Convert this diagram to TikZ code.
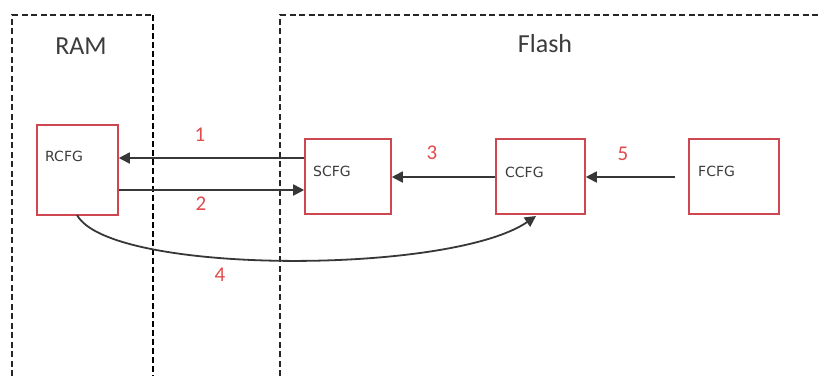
\documentclass[tikz,border=0pt]{standalone}
\usepackage{fontspec}
\setmainfont{Carlito}
\newfontfamily\boxfont{DejaVu Sans}
\usetikzlibrary{arrows.meta}
\definecolor{boxred}{RGB}{205,70,80}
\definecolor{numred}{RGB}{225,75,75}
\definecolor{txtgray}{RGB}{60,60,60}
\definecolor{arrgray}{RGB}{55,55,55}
\tikzset{
  cfgbox/.style={draw=boxred, line width=1.6pt, fill=white, inner sep=0pt},
  cfglabel/.style={font=\boxfont\fontsize{14}{16}\selectfont, text=txtgray, anchor=west, inner sep=0pt},
  numlabel/.style={font=\fontsize{21}{24}\selectfont, text=numred, inner sep=0pt},
  biglabel/.style={font=\fontsize{26}{30}\selectfont, text=txtgray, inner sep=0pt},
  thindash/.style={draw=black!85, line width=1.1pt, dash pattern=on 6pt off 3.5pt},
  thickdash/.style={draw=black, line width=2pt, dash pattern=on 6pt off 3pt},
  conn/.style={draw=arrgray, line width=1.8pt, -{Triangle[length=11pt,width=11pt]}}
}
\begin{document}
\begin{tikzpicture}[x=1pt,y=-1pt]
\useasboundingbox[fill=white] (0,0) rectangle (822,376);
% region borders
\coordinate (ramTL) at (12,15);
\coordinate (ramTR) at (153,15);
\coordinate (ramBL) at (12,376);
\coordinate (ramBR) at (153,376);
\coordinate (flTL) at (280,15);
\coordinate (flTR) at (822,15);
\coordinate (flBL) at (280,376);
\draw[thindash] (ramBL) -- (ramTL) -- (ramTR);
\draw[thickdash] (ramTR) -- (ramBR);
\draw[thindash] (flBL) -- (flTL) -- (flTR);
\node[biglabel] (ram) at (81,46) {RAM};
\node[biglabel] (flash) at (545,44) {Flash};
% boxes
\node[cfgbox, minimum width=81pt, minimum height=90pt] (rcfg) at (77.5,170) {};
\node[cfgbox, minimum width=86pt, minimum height=75pt] (scfg) at (348,176.5) {};
\node[cfgbox, minimum width=89pt, minimum height=75pt] (ccfg) at (540.5,176.5) {};
\node[cfgbox, minimum width=90pt, minimum height=75pt] (fcfg) at (734,176.5) {};
\node[cfglabel] (rcfgt) at (45,156) {RCFG};
\node[cfglabel] (scfgt) at (313,171) {SCFG};
\node[cfglabel] (ccfgt) at (505,172) {CCFG};
\node[cfglabel] (fcfgt) at (698,171) {FCFG};
% connectors
\draw[conn] (scfg.west |- 0,158) -- (rcfg.east |- 0,158);
\draw[conn] (rcfg.east |- 0,190) -- (scfg.west |- 0,190);
\draw[conn] (ccfg.west |- 0,177) -- (scfg.east |- 0,177);
\coordinate (fstart) at (675,177);
\draw[conn] (fstart) -- (ccfg.east |- 0,177);
\draw[conn] (77,215) .. controls (110,275) and (450,275) .. (536,216);
% numbers
\node[numlabel] (n1) at (200,135) {1};
\node[numlabel] (n2) at (201,204) {2};
\node[numlabel] (n3) at (432,153) {3};
\node[numlabel] (n4) at (220,275) {4};
\node[numlabel] (n5) at (623,154) {5};
\end{tikzpicture}
\end{document}
